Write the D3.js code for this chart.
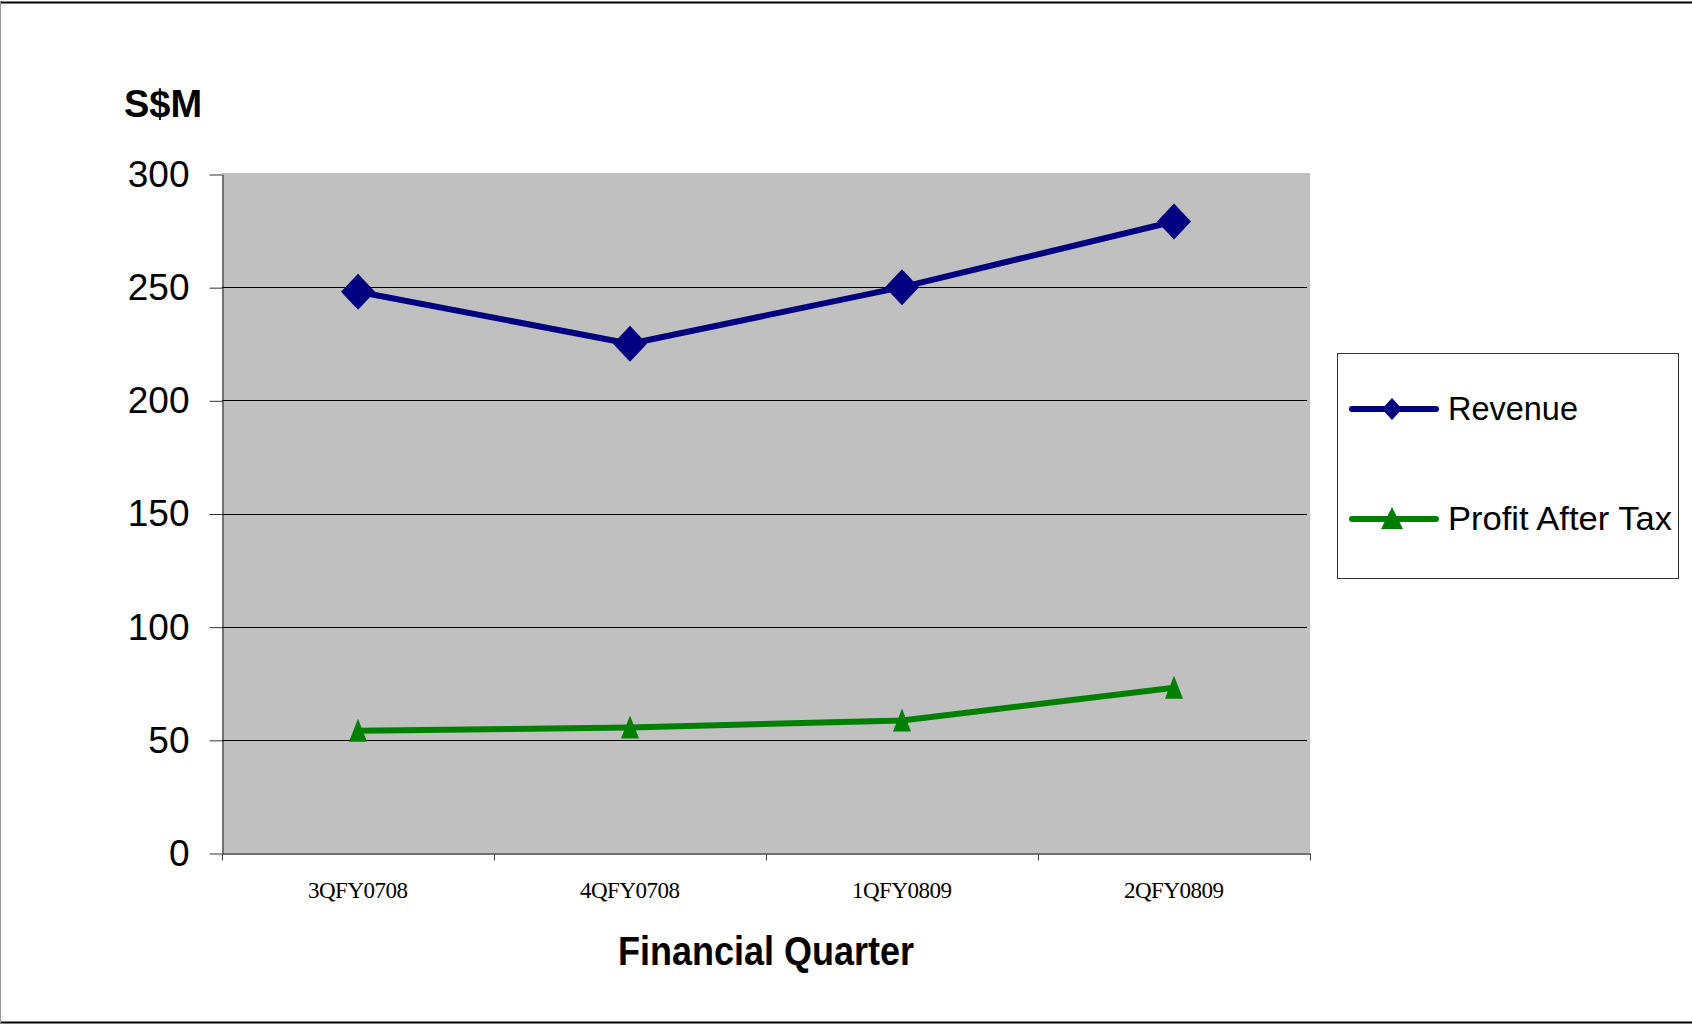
<!DOCTYPE html>
<html lang="en">
<head>
<meta charset="utf-8"/>
<title>Revenue and Profit After Tax</title>
<script src="https://d3js.org/d3.v7.min.js"></script>
<style>
  body { margin: 0; background: #fff; }
  svg { display: block; }
</style>
</head>
<body>
<script>
// chart data
var quarters = ["3QFY0708", "4QFY0708", "1QFY0809", "2QFY0809"];
var revenue = [248, 225, 250, 279];
var profitAfterTax = [54, 55.5, 58.5, 73];
var yTicks = [0, 50, 100, 150, 200, 250, 300];

var w = 1692, h = 1025;
var plotLeft = 222, plotRight = 1310, plotTop = 174, plotBottom = 853;

var svg = d3.select("body").append("svg")
    .attr("width", w)
    .attr("height", h);

// outer frame
svg.append("line").attr("x1", 0).attr("x2", w).attr("y1", 2.5).attr("y2", 2.5)
    .attr("stroke", "#000").attr("stroke-width", 2);
svg.append("line").attr("x1", w).attr("x2", 0).attr("y1", 1022.5).attr("y2", 1022.5)
    .attr("stroke", "#000").attr("stroke-width", 2);
svg.append("line").attr("x1", 0.5).attr("x2", 0.5).attr("y1", 2).attr("y2", 1023)
    .attr("stroke", "#999").attr("stroke-width", 1);

var x = d3.scaleBand().domain(quarters).range([plotLeft, plotRight]);
var y = d3.scaleLinear().domain([0, 300]).range([plotBottom, plotTop]);

// plot area
svg.append("rect")
    .attr("x", plotLeft).attr("y", plotTop - 1)
    .attr("width", plotRight - plotLeft).attr("height", plotBottom - plotTop + 1)
    .attr("fill", "#c0c0c0");

// gridlines
svg.selectAll("line.grid")
    .data(yTicks.filter(function(d) { return d > 0 && d < 300; }))
    .enter().append("line")
    .attr("class", "grid")
    .attr("x1", plotLeft).attr("x2", plotRight - 3)
    .attr("y1", function(d) { return Math.round(y(d)) + 0.5; })
    .attr("y2", function(d) { return Math.round(y(d)) + 0.5; })
    .attr("stroke", "#000").attr("stroke-width", 1);

// y axis
var yAxis = d3.axisLeft(y).tickValues(yTicks).tickSize(13).tickPadding(20).tickSizeOuter(0);
var gy = svg.append("g")
    .attr("transform", "translate(" + (plotLeft + 0.5) + ",0.5)")
    .call(yAxis);
gy.select(".domain").attr("stroke", "#222");
gy.selectAll(".tick line").attr("stroke", "#333");
gy.selectAll("text")
    .attr("font-family", "Liberation Sans, Arial, sans-serif")
    .attr("font-size", 37)
    .attr("fill", "#000");

// x axis
var xEdges = d3.axisBottom(x).tickSize(0).tickFormat("");
var gx = svg.append("g")
    .attr("transform", "translate(0," + (plotBottom + 0.5) + ")")
    .call(xEdges);
gx.select(".domain").attr("stroke", "#444").attr("stroke-width", 1.5);
gx.selectAll(".tick").remove();

// category boundary ticks
var edges = quarters.map(function(q) { return x(q); }).concat([x.range()[1]]);
gx.selectAll("line.edge")
    .data(edges).enter().append("line")
    .attr("class", "edge")
    .attr("x1", function(d) { return Math.round(d) + 0.5; })
    .attr("x2", function(d) { return Math.round(d) + 0.5; })
    .attr("y1", 0).attr("y2", 7)
    .attr("stroke", "#444");

// category labels
svg.selectAll("text.cat")
    .data(quarters).enter().append("text")
    .attr("class", "cat")
    .attr("x", function(d) { return x(d) + x.bandwidth() / 2; })
    .attr("y", 898)
    .attr("text-anchor", "middle")
    .attr("font-family", "Liberation Serif, Times New Roman, serif")
    .attr("font-size", 23)
    .attr("textLength", 100)
    .attr("lengthAdjust", "spacing")
    .text(function(d) { return d; });

// axis titles
svg.append("text")
    .attr("x", 124).attr("y", 117)
    .attr("font-family", "Liberation Sans, Arial, sans-serif")
    .attr("font-weight", "bold")
    .attr("font-size", 38)
    .text("S$M");

svg.append("text")
    .attr("x", (plotLeft + plotRight) / 2).attr("y", 965)
    .attr("text-anchor", "middle")
    .attr("font-family", "Liberation Sans, Arial, sans-serif")
    .attr("font-weight", "bold")
    .attr("font-size", 40)
    .attr("textLength", 296)
    .attr("lengthAdjust", "spacingAndGlyphs")
    .text("Financial Quarter");

// series
var cx = function(d, i) { return x(quarters[i]) + x.bandwidth() / 2; };
var line = d3.line().x(cx).y(function(d) { return y(d); });

var diamond = "M0,-18L17,0L0,18L-17,0Z";
var triangle = "M0,-12L9,11L-9,11Z";

svg.append("path")
    .datum(revenue)
    .attr("d", line)
    .attr("fill", "none")
    .attr("stroke", "#000080")
    .attr("stroke-width", 6)
    .attr("stroke-linejoin", "round");
svg.selectAll("path.rev")
    .data(revenue).enter().append("path")
    .attr("class", "rev")
    .attr("d", diamond)
    .attr("transform", function(d, i) { return "translate(" + cx(d, i) + "," + y(d) + ")"; })
    .attr("fill", "#000080");

svg.append("path")
    .datum(profitAfterTax)
    .attr("d", line)
    .attr("fill", "none")
    .attr("stroke", "#008000")
    .attr("stroke-width", 6)
    .attr("stroke-linejoin", "round");
svg.selectAll("path.pat")
    .data(profitAfterTax).enter().append("path")
    .attr("class", "pat")
    .attr("d", triangle)
    .attr("transform", function(d, i) { return "translate(" + cx(d, i) + "," + y(d) + ")"; })
    .attr("fill", "#008000");

// legend
var legend = svg.append("g");
legend.append("rect")
    .attr("x", 1337.5).attr("y", 353.5)
    .attr("width", 341).attr("height", 225)
    .attr("fill", "#fff").attr("stroke", "#333").attr("stroke-width", 1);

var legendItems = [
  { name: "Revenue", color: "#000080", marker: "M0,-11L10,0L0,11L-10,0Z", y: 409 },
  { name: "Profit After Tax", color: "#008000", marker: "M0,-11L11,11L-11,11Z", y: 519 }
];
var li = legend.selectAll("g.item").data(legendItems).enter().append("g").attr("class", "item");
li.append("line")
    .attr("x1", 1352).attr("x2", 1436)
    .attr("y1", function(d) { return d.y; }).attr("y2", function(d) { return d.y; })
    .attr("stroke", function(d) { return d.color; })
    .attr("stroke-width", 6)
    .attr("stroke-linecap", "round");
li.append("path")
    .attr("d", function(d) { return d.marker; })
    .attr("transform", function(d) { return "translate(1392," + (d.name === "Revenue" ? d.y : d.y - 1) + ")"; })
    .attr("fill", function(d) { return d.color; });
li.append("text")
    .attr("x", 1448)
    .attr("y", function(d) { return d.y + 11; })
    .attr("font-family", "Liberation Sans, Arial, sans-serif")
    .attr("font-size", 34)
    .attr("textLength", function(d) { return d.name === "Revenue" ? 130 : 224; })
    .attr("lengthAdjust", "spacingAndGlyphs")
    .text(function(d) { return d.name; });
</script>
</body>
</html>
